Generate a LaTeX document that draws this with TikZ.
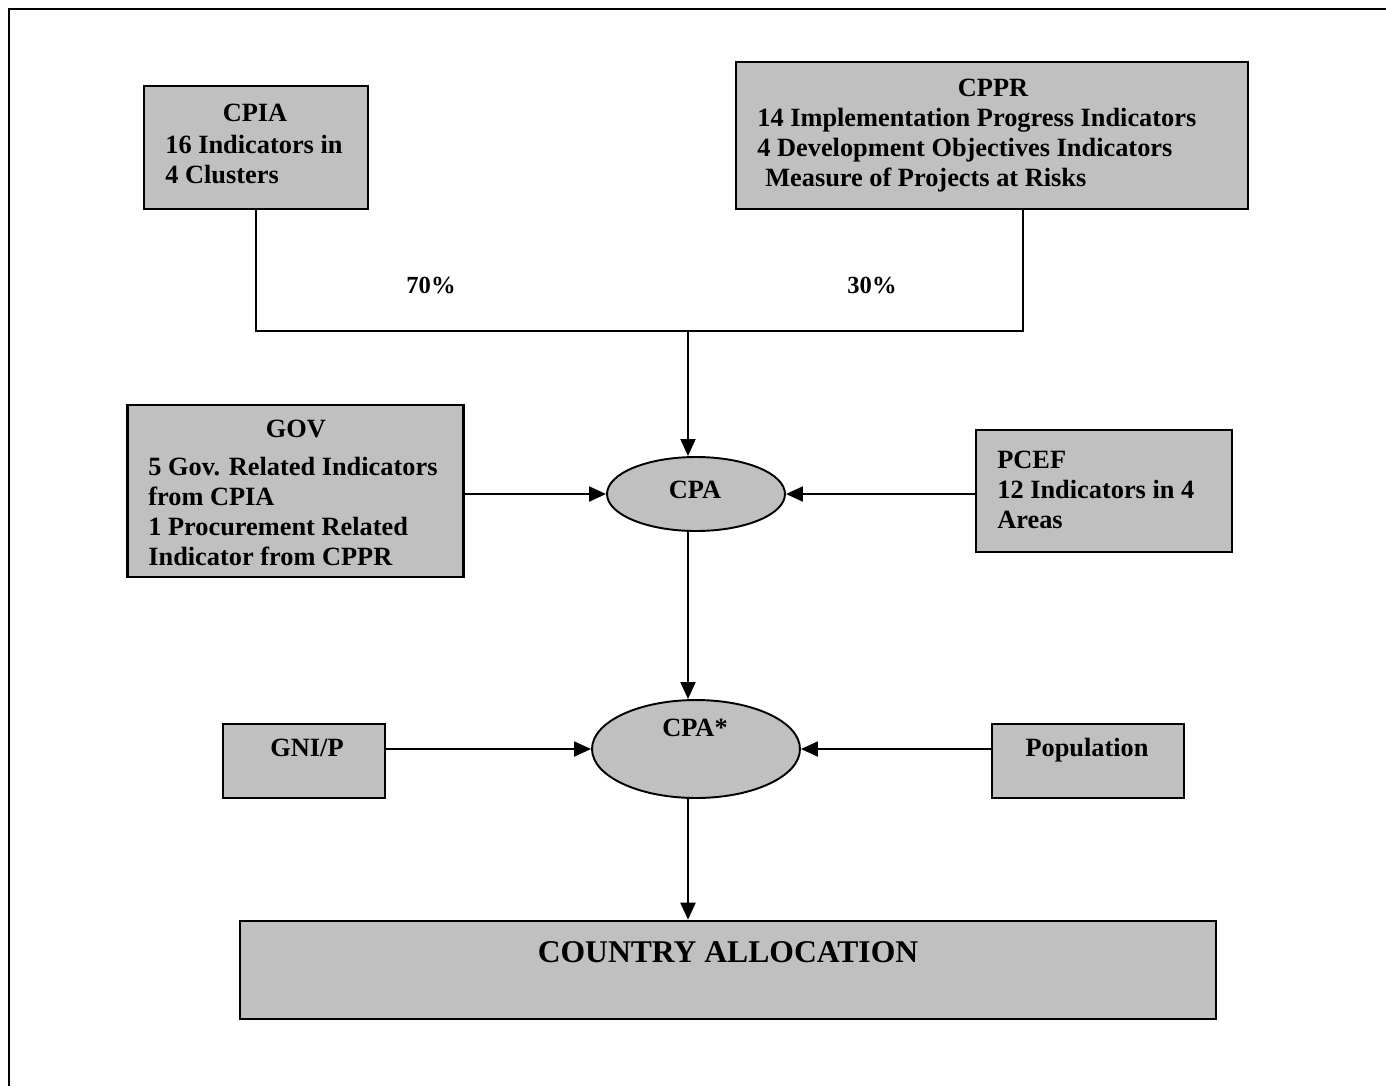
\documentclass[tikz,border=0pt]{standalone}
\usepackage{fontspec}
\setmainfont{Liberation Serif}
\usetikzlibrary{arrows.meta,shapes.geometric}
\definecolor{boxgray}{HTML}{C0C0C0}
\begin{document}
\begin{tikzpicture}[x=0.02cm,y=-0.02cm,
  box/.style={draw=black, line width=1.5pt, fill=boxgray, inner sep=0pt, rectangle},
  ell/.style={draw=black, line width=1.1pt, fill=boxgray, inner sep=0pt, ellipse},
  txt/.style={font=\fontsize{15}{17.07}\selectfont\bfseries, inner sep=0pt, align=left},
  pct/.style={font=\fontsize{14}{16}\selectfont\bfseries, inner sep=0pt},
  conn/.style={line width=1.1pt},
  arr/.style={conn, -{Triangle[length=0.34cm,width=0.3cm]}}]
\useasboundingbox (0,0) rectangle (1386,1086);
% outer frame (cut off at right and bottom)
\draw[line width=1.7pt] (9,1086) -- (9,9) -- (1386,9);

% boxes
\node[box, minimum width=4.48cm, minimum height=2.46cm] (cpia) at (256,147.5) {};
\node[box, minimum width=10.24cm, minimum height=2.94cm] (cppr) at (992,135.5) {};
\node[box, minimum width=6.72cm, minimum height=3.44cm] (gov) at (295.5,491) {};
\node[box, minimum width=5.12cm, minimum height=2.44cm] (pcef) at (1104,491) {};
\node[box, minimum width=3.24cm, minimum height=1.48cm] (gni) at (304,761) {};
\node[box, minimum width=3.84cm, minimum height=1.48cm] (pop) at (1088,761) {};
\node[box, minimum width=19.52cm, minimum height=1.96cm] (ca) at (728,970) {};
\node[ell, minimum width=3.56cm, minimum height=1.48cm] (cpa) at (696,494) {};
\node[ell, minimum width=4.16cm, minimum height=1.96cm] (cpas) at (696,749) {};

% connectors
\coordinate (jn) at (688,331);
\draw[conn] (cpia.south) |- (jn);
\draw[conn] ([xshift=0.62cm]cppr.south) |- (jn);
\draw[arr] (jn) -- (jn |- cpa.north);
\draw[arr] (gov.east |- cpa.west) -- (cpa.west);
\draw[arr] (pcef.west |- cpa.east) -- (cpa.east);
\draw[arr] (cpa.south -| jn) -- (cpas.north -| jn);
\draw[arr] (gni.east |- cpas.west) -- (cpas.west);
\draw[arr] (pop.west |- cpas.east) -- (cpas.east);
\draw[arr] (cpas.south -| jn) -- (ca.north -| jn);

% texts
\node[txt] (cpiaT) at (255,113) {CPIA};
\node[txt, anchor=west] (cpiaB) at (165,160) {16 Indicators in\\4 Clusters};
\node[txt] (cpprT) at (993,88) {CPPR};
\node[txt, anchor=west] (cpprB) at (757,150)
  {14 Implementation Progress Indicators\\4 Development Objectives Indicators\\\hspace*{4.5pt}Measure of Projects at Risks};
\node[pct] (p70) at (431,285) {70\%};
\node[pct] (p30) at (872,285) {30\%};
\node[txt] (govT) at (296,429) {GOV};
\node[txt, anchor=west] (govB) at (148,511) {5 Gov. Related Indicators\\from CPIA\\1 Procurement Related\\Indicator from CPPR};
\node[txt, anchor=west] (pcefB) at (997,490) {PCEF\\12 Indicators in 4\\Areas};
\node[txt] (cpaT) at (695,490) {CPA};
\node[txt] (cpasT) at (695,728) {CPA*};
\node[txt] (gniT) at (307,748) {GNI/P};
\node[txt] (popT) at (1087,750) {Population};
\node[txt, font=\fontsize{18}{21}\selectfont\bfseries] (caT) at (728,952) {COUNTRY ALLOCATION};
\end{tikzpicture}
\end{document}
